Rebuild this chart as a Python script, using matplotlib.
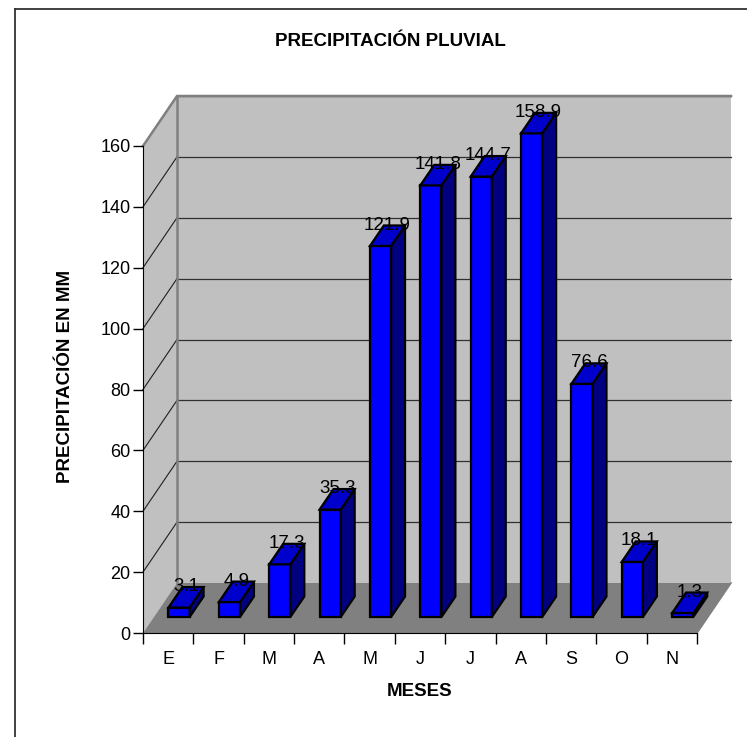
import matplotlib
matplotlib.use("Agg")
import matplotlib.pyplot as plt
from matplotlib.patches import Polygon
from matplotlib.lines import Line2D

plt.rcParams['font.family'] = ['Liberation Sans', 'DejaVu Sans']

# datos
meses = ['E', 'F', 'M', 'A', 'M', 'J', 'J', 'A', 'S', 'O', 'N']
precip = [3.1, 4.9, 17.3, 35.3, 121.9, 141.8, 144.7, 158.9, 76.6, 18.1, 1.3]
yticks = [0, 20, 40, 60, 80, 100, 120, 140, 160]

W, H = 747, 737
fig = plt.figure(figsize=(W / 100, H / 100), dpi=100)

# posicion del plano frontal en pixeles
x0, x1 = 143, 697
y0, y1 = 633, 146
ax = fig.add_axes([x0 / W, 1 - y0 / H, (x1 - x0) / W, (y0 - y1) / H])
n = len(meses)
ymax = 160
ax.set_xlim(0, n)
ax.set_ylim(0, ymax)

# desplazamiento de profundidad (en unidades de datos)
ddx = 34 / ((x1 - x0) / n)
ddy = 50 / ((y0 - y1) / ymax)

wall = '#C0C0C0'
floor = '#808080'
edge = '#808080'

# pared del fondo
ax.add_patch(Polygon([(ddx, ddy), (n + ddx, ddy), (n + ddx, ymax + ddy), (ddx, ymax + ddy)],
                     closed=True, fc=wall, ec='none', clip_on=False, zorder=0))
# pared lateral
ax.add_patch(Polygon([(0, 0), (ddx, ddy), (ddx, ymax + ddy), (0, ymax)],
                     closed=True, fc=wall, ec='none', clip_on=False, zorder=0))
# piso
ax.add_patch(Polygon([(0, 0), (n, 0), (n + ddx, ddy), (ddx, ddy)],
                     closed=True, fc=floor, ec='none', clip_on=False, zorder=1))

# lineas de cuadricula
for v in yticks[1:]:
    ax.plot([ddx, n + ddx], [v + ddy, v + ddy], color='#303030', lw=0.9, clip_on=False, zorder=1)
    ax.plot([0, ddx], [v, v + ddy], color='#202020', lw=0.8, clip_on=False, zorder=1)

# bordes de las paredes
ax.plot([0, ddx, n + ddx], [ymax, ymax + ddy, ymax + ddy], color=edge, lw=1.8, clip_on=False, zorder=1)
ax.plot([ddx, ddx], [ddy, ymax + ddy], color=edge, lw=1.8, clip_on=False, zorder=1)
ax.plot([n, n + ddx], [0, ddy], color=edge, lw=1.2, clip_on=False, zorder=1)

# barras 3D
d0 = 0.32   # profundidad de la cara frontal
dd = 0.41   # profundidad de la barra
bw = 0.42
xs = [i + 0.5 for i in range(n)]
front_x = [x - bw / 2 + d0 * ddx for x in xs]
ax.bar(front_x, precip, width=bw, bottom=d0 * ddy, align='edge',
       color='#0000FF', edgecolor='black', linewidth=1.6, zorder=3, clip_on=False)
for fx, v in zip(front_x, precip):
    yb = d0 * ddy
    yt = yb + v
    ox, oy = dd * ddx, dd * ddy
    top = [(fx, yt), (fx + bw, yt), (fx + bw + ox, yt + oy), (fx + ox, yt + oy)]
    side = [(fx + bw, yb), (fx + bw + ox, yb + oy), (fx + bw + ox, yt + oy), (fx + bw, yt)]
    ax.add_patch(Polygon(side, closed=True, fc='#000080', ec='black', lw=1.6, clip_on=False, zorder=3))
    ax.add_patch(Polygon(top, closed=True, fc='#0000CC', ec='black', lw=1.6, clip_on=False, zorder=3))

# etiquetas de datos
for x, v in zip(xs, precip):
    ax.text(x + (d0 + dd / 2) * ddx, v + (d0 + dd) * ddy + 0.8, f'{v:.1f}',
            ha='center', va='center_baseline', fontsize=13.5, color='black',
            zorder=5, clip_on=False)

# ejes
for s in ['top', 'right']:
    ax.spines[s].set_visible(False)
ax.spines['left'].set_color('black')
ax.spines['bottom'].set_color('black')
ax.spines['left'].set_zorder(4)
ax.spines['bottom'].set_zorder(4)
ax.patch.set_visible(False)
ax.set_yticks(yticks)
ax.set_yticklabels([str(t) for t in yticks], fontsize=13)
ax.set_xticks(range(n + 1))
ax.set_xticklabels([])
ax.set_xticks(xs, minor=True)
ax.set_xticklabels(meses, minor=True, fontsize=13)
ax.tick_params(axis='x', which='minor', length=0, pad=13)
ax.tick_params(axis='x', which='major', length=8, width=1, color='black')
ax.tick_params(axis='y', length=7, width=1, color='black', pad=2)

fig.text(390 / W, 1 - 42 / H, 'PRECIPITACIÓN PLUVIAL', ha='center', va='center',
         fontsize=13.5, fontweight='bold')
fig.text(420 / W, 1 - 692 / H, 'MESES', ha='center', va='center',
         fontsize=13.5, fontweight='bold')
fig.text(66 / W, 1 - 376 / H, 'PRECIPITACIÓN EN MM', ha='center', va='center',
         rotation=90, fontsize=13.5, fontweight='bold')

# marco exterior
fig.add_artist(Line2D([14.7 / W, 14.7 / W], [0, 1 - 9 / H], color='#333333', lw=1.3))
fig.add_artist(Line2D([14.7 / W, 1], [1 - 9 / H, 1 - 9 / H], color='#333333', lw=1.3))

fig.savefig('out.png', dpi=100)
